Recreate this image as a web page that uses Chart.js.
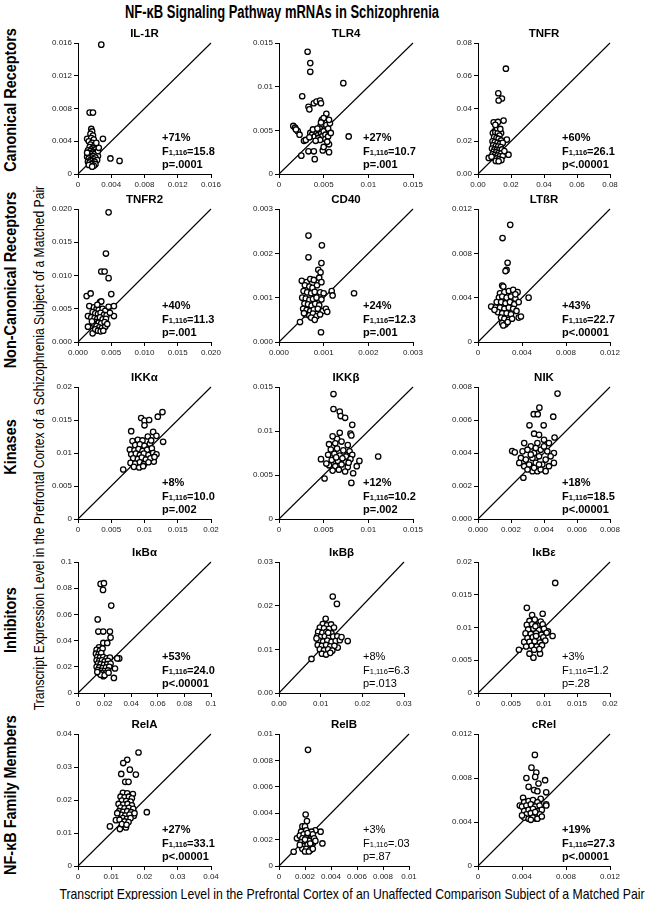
<!DOCTYPE html>
<html>
<head>
<meta charset="utf-8">
<script src="https://cdn.jsdelivr.net/npm/chart.js@4.4.1/dist/chart.umd.min.js"></script>
<style>
  body { margin: 0; background: #fff; }
  #fig { position: relative; width: 647px; height: 900px; overflow: hidden;
         font-family: "Liberation Sans", Arial, sans-serif; color: #000; }
  #fig canvas { position: absolute; }
  .lbl { position: absolute; white-space: nowrap; }
</style>
</head>
<body>
<div id="fig">
  <div class="lbl" style="left:282px; top:12px; font-weight:bold; font-size:18px; transform:translate(-50%,-50%) scaleX(0.72);">NF-κB Signaling Pathway mRNAs in Schizophrenia</div>
  <div class="lbl" style="left:11px; top:100px; font-weight:bold; font-size:17px; transform:translate(-50%,-50%) rotate(-90deg) scaleX(0.85);">Canonical Receptors</div>
  <div class="lbl" style="left:11px; top:280px; font-weight:bold; font-size:17px; transform:translate(-50%,-50%) rotate(-90deg) scaleX(0.85);">Non-Canonical Receptors</div>
  <div class="lbl" style="left:11px; top:447px; font-weight:bold; font-size:17px; transform:translate(-50%,-50%) rotate(-90deg) scaleX(0.85);">Kinases</div>
  <div class="lbl" style="left:11px; top:620px; font-weight:bold; font-size:17px; transform:translate(-50%,-50%) rotate(-90deg) scaleX(0.85);">Inhibitors</div>
  <div class="lbl" style="left:11px; top:795px; font-weight:bold; font-size:17px; transform:translate(-50%,-50%) rotate(-90deg) scaleX(0.85);">NF-κB Family Members</div>
  <div class="lbl" style="left:38px; top:448px; font-size:15px; transform:translate(-50%,-50%) rotate(-90deg) scaleX(0.81);">Transcript Expression Level in the Prefrontal Cortex of a Schizophrenia Subject of a Matched Pair</div>
  <div class="lbl" style="left:352px; top:893px; font-size:15px; transform:translate(-50%,-50%) scaleX(0.815);">Transcript Expression Level in the Prefrontal Cortex of an Unaffected Comparison Subject of a Matched Pair</div>
</div>
<script>
// [control, schizophrenia] pairs for each transcript
const il1rPairs = [[0.0028,0.0158],[0.0014,0.0075],[0.0018,0.0075],[0.0030,0.0043],[0.0039,0.0019],[0.0050,0.0016],
  [0.0016,0.0055],[0.0017,0.0052],[0.0015,0.0049],[0.0018,0.0047],[0.0011,0.0043],[0.0016,0.0044],[0.0019,0.0042],[0.0013,0.0040],
  [0.0017,0.0038],[0.0015,0.0036],[0.0020,0.0035],[0.0014,0.0033],[0.0018,0.0032],[0.0016,0.0030],[0.0021,0.0030],[0.0012,0.0029],
  [0.0015,0.0028],[0.0019,0.0027],[0.0017,0.0026],[0.0022,0.0026],[0.0013,0.0025],[0.0016,0.0024],[0.0020,0.0024],[0.0014,0.0022],
  [0.0018,0.0022],[0.0024,0.0022],[0.0011,0.0021],[0.0016,0.0020],[0.0021,0.0020],[0.0013,0.0019],[0.0019,0.0018],[0.0015,0.0017],
  [0.0023,0.0017],[0.0017,0.0016],[0.0012,0.0015],[0.0020,0.0015],[0.0014,0.0014],[0.0018,0.0013],[0.0016,0.0012],[0.0021,0.0012],
  [0.0013,0.0011],[0.0019,0.0010],[0.0017,0.0009],[0.0024,0.0028],[0.0025,0.0032],[0.0011,0.0026],[0.0022,0.0038]];
const tlr4Pairs = [[0.0032,0.0140],[0.0035,0.0127],[0.0035,0.0117],[0.0072,0.0104],[0.0026,0.0089],[0.0033,0.0077],[0.0034,0.0074],
  [0.0039,0.0081],[0.0042,0.0083],[0.0046,0.0084],[0.0047,0.0081],[0.0078,0.0043],[0.0016,0.0055],[0.0018,0.0053],[0.0021,0.0049],
  [0.0023,0.0045],[0.0025,0.0021],[0.0033,0.0026],[0.0039,0.0026],[0.0040,0.0017],[0.0049,0.0027],[0.0050,0.0031],[0.0056,0.0025],
  [0.0056,0.0034],[0.0053,0.0069],[0.0019,0.0051],[0.0028,0.0038],[0.0030,0.0039],[0.0035,0.0047],[0.0037,0.0045],[0.0040,0.0043],
  [0.0042,0.0048],[0.0044,0.0045],[0.0045,0.0050],[0.0047,0.0046],[0.0048,0.0043],[0.0050,0.0049],[0.0052,0.0045],[0.0046,0.0054],
  [0.0049,0.0057],[0.0051,0.0060],[0.0053,0.0056],[0.0055,0.0052],[0.0057,0.0058],[0.0048,0.0062],[0.0050,0.0064],[0.0044,0.0041],
  [0.0046,0.0039],[0.0052,0.0040],[0.0055,0.0043],[0.0058,0.0047],[0.0034,0.0042],[0.0038,0.0051],[0.0041,0.0038],[0.0054,0.0037],
  [0.0043,0.0052],[0.0047,0.0059],[0.0056,0.0062]];
const tnfrPairs = [[0.0169,0.0643],[0.0123,0.0493],[0.0145,0.0461],[0.0125,0.0449],[0.0095,0.0316],[0.0121,0.0318],[0.0155,0.0326],
  [0.0185,0.0118],[0.0175,0.0210],[0.0065,0.0098],[0.0140,0.0250],[0.0100,0.0260],[0.0090,0.0250],[0.0105,0.0255],[0.0120,0.0252],
  [0.0130,0.0235],[0.0098,0.0225],[0.0112,0.0220],[0.0125,0.0215],[0.0140,0.0205],[0.0088,0.0200],[0.0102,0.0195],[0.0118,0.0190],
  [0.0133,0.0185],[0.0150,0.0190],[0.0092,0.0175],[0.0108,0.0170],[0.0122,0.0168],[0.0138,0.0165],[0.0085,0.0155],[0.0100,0.0150],
  [0.0115,0.0148],[0.0128,0.0145],[0.0145,0.0150],[0.0095,0.0135],[0.0110,0.0132],[0.0125,0.0128],[0.0140,0.0125],[0.0088,0.0120],
  [0.0103,0.0115],[0.0118,0.0112],[0.0132,0.0108],[0.0150,0.0110],[0.0098,0.0100],[0.0112,0.0095],[0.0128,0.0090],[0.0142,0.0085],
  [0.0108,0.0080],[0.0125,0.0078],[0.0082,0.0105],[0.0160,0.0140],[0.0115,0.0280],[0.0135,0.0275],[0.0105,0.0300]];
const tnfr2Pairs = [[0.0046,0.0195],[0.0042,0.0133],[0.0035,0.0106],[0.0040,0.0106],[0.0046,0.0096],[0.0013,0.0069],[0.0019,0.0073],
  [0.0050,0.0072],[0.0017,0.0054],[0.0015,0.0039],[0.0054,0.0054],[0.0054,0.0039],[0.0033,0.0060],[0.0035,0.0061],[0.0015,0.0023],
  [0.0022,0.0013],[0.0024,0.0052],[0.0028,0.0050],[0.0031,0.0048],[0.0037,0.0050],[0.0041,0.0047],[0.0046,0.0053],[0.0022,0.0045],
  [0.0026,0.0043],[0.0030,0.0042],[0.0034,0.0044],[0.0039,0.0041],[0.0043,0.0040],[0.0048,0.0044],[0.0020,0.0037],[0.0025,0.0036],
  [0.0029,0.0035],[0.0033,0.0037],[0.0037,0.0034],[0.0042,0.0035],[0.0027,0.0030],[0.0031,0.0029],[0.0035,0.0028],[0.0040,0.0030],
  [0.0023,0.0028],[0.0028,0.0024],[0.0032,0.0022],[0.0036,0.0021],[0.0041,0.0023],[0.0026,0.0019],[0.0030,0.0017],[0.0034,0.0016],
  [0.0038,0.0017],[0.0044,0.0027],[0.0021,0.0031],[0.0029,0.0056]];
const cd40Pairs = [[0.00066,0.00240],[0.00096,0.00218],[0.00066,0.00191],[0.00095,0.00178],[0.00088,0.00163],[0.00093,0.00157],
  [0.00051,0.00138],[0.00094,0.00022],[0.00168,0.00110],[0.00118,0.00115],[0.00120,0.00105],[0.00047,0.00045],[0.00062,0.00135],
  [0.00070,0.00142],[0.00078,0.00140],[0.00090,0.00145],[0.00058,0.00128],[0.00068,0.00125],[0.00075,0.00122],[0.00085,0.00128],
  [0.00095,0.00135],[0.00055,0.00115],[0.00063,0.00112],[0.00072,0.00110],[0.00080,0.00113],[0.00092,0.00112],[0.00100,0.00110],
  [0.00052,0.00100],[0.00060,0.00098],[0.00068,0.00095],[0.00076,0.00097],[0.00084,0.00100],[0.00095,0.00096],[0.00057,0.00087],
  [0.00065,0.00085],[0.00073,0.00082],[0.00081,0.00086],[0.00090,0.00083],[0.00054,0.00075],[0.00062,0.00072],[0.00070,0.00070],
  [0.00078,0.00073],[0.00087,0.00075],[0.00098,0.00070],[0.00105,0.00075],[0.00060,0.00062],[0.00068,0.00060],[0.00076,0.00064],
  [0.00084,0.00058],[0.00092,0.00062],[0.00072,0.00055],[0.00080,0.00050],[0.00108,0.00068],[0.00056,0.00065]];
const ltbrPairs = [[0.00293,0.01057],[0.00223,0.00938],[0.00269,0.00715],[0.0026,0.0065],[0.0025,0.0064],[0.0046,0.0040],[0.0012,0.0032],
  [0.0037,0.0022],[0.0039,0.0023],[0.0022,0.0051],[0.0023,0.0050],[0.0020,0.0044],[0.0024,0.0045],[0.0028,0.0046],[0.0032,0.0047],
  [0.0036,0.0045],[0.0019,0.0040],[0.0022,0.0041],[0.0026,0.0040],[0.0030,0.0041],[0.0034,0.0039],[0.0017,0.0036],[0.0021,0.0036],
  [0.0025,0.0035],[0.0029,0.0036],[0.0033,0.0034],[0.0037,0.0036],[0.0016,0.0031],[0.0020,0.0031],[0.0024,0.0030],[0.0028,0.0031],
  [0.0032,0.0030],[0.0035,0.0028],[0.0018,0.0027],[0.0022,0.0026],[0.0026,0.0026],[0.0030,0.0025],[0.0021,0.0022],[0.0024,0.0021],
  [0.0028,0.0020],[0.0022,0.0017],[0.0025,0.0016],[0.0023,0.0015],[0.0027,0.0018],[0.0031,0.0021],[0.0015,0.0029],[0.0034,0.0043]];
const ikkaPairs = [[0.0068,0.0075],[0.0127,0.0162],[0.0120,0.0155],[0.0095,0.0153],[0.0100,0.0149],[0.0107,0.0150],[0.0100,0.0142],
  [0.0080,0.0133],[0.0128,0.0117],[0.0113,0.0132],[0.0118,0.0126],[0.0105,0.0125],[0.0114,0.0087],[0.0082,0.0118],[0.0090,0.0120],
  [0.0097,0.0119],[0.0086,0.0112],[0.0093,0.0113],[0.0100,0.0111],[0.0108,0.0114],[0.0078,0.0105],[0.0085,0.0104],[0.0091,0.0106],
  [0.0097,0.0103],[0.0104,0.0105],[0.0111,0.0107],[0.0080,0.0098],[0.0087,0.0099],[0.0093,0.0097],[0.0099,0.0099],[0.0106,0.0097],
  [0.0113,0.0100],[0.0118,0.0098],[0.0083,0.0092],[0.0090,0.0091],[0.0096,0.0093],[0.0102,0.0090],[0.0109,0.0092],[0.0115,0.0094],
  [0.0079,0.0085],[0.0086,0.0084],[0.0093,0.0086],[0.0099,0.0083],[0.0106,0.0086],[0.0084,0.0079],[0.0092,0.0078],[0.0098,0.0080],
  [0.0110,0.0119]];
const ikkbPairs = [[0.0061,0.0142],[0.0061,0.0125],[0.0068,0.0122],[0.0069,0.0117],[0.0074,0.0115],[0.0082,0.0107],[0.0080,0.0097],
  [0.0081,0.0095],[0.0068,0.0098],[0.0111,0.0071],[0.0081,0.0041],[0.0090,0.0066],[0.0087,0.0060],[0.0083,0.0052],[0.0047,0.0068],
  [0.0051,0.0046],[0.0060,0.0082],[0.0065,0.0091],[0.0060,0.0094],[0.0056,0.0085],[0.0063,0.0086],[0.0070,0.0088],[0.0077,0.0084],
  [0.0058,0.0079],[0.0065,0.0080],[0.0072,0.0078],[0.0079,0.0077],[0.0055,0.0073],[0.0062,0.0074],[0.0068,0.0072],[0.0075,0.0071],
  [0.0082,0.0073],[0.0059,0.0067],[0.0066,0.0066],[0.0073,0.0065],[0.0080,0.0068],[0.0056,0.0061],[0.0063,0.0060],[0.0070,0.0062],
  [0.0077,0.0059],[0.0060,0.0055],[0.0067,0.0056],[0.0074,0.0054],[0.0071,0.0069],[0.0064,0.0070],[0.0053,0.0063],[0.0078,0.0064]];
const nikPairs = [[0.00482,0.0076],[0.00372,0.00675],[0.00338,0.00635],[0.00362,0.00635],[0.00312,0.00568],[0.00398,0.00568],
  [0.00456,0.0062],[0.00464,0.00494],[0.0034,0.00517],[0.0037,0.0051],[0.00207,0.00412],[0.00223,0.00404],[0.00275,0.0025],
  [0.0046,0.0040],[0.0033,0.0029],[0.0036,0.0029],[0.0028,0.0046],[0.0032,0.0044],[0.0036,0.0046],[0.0040,0.0048],[0.0043,0.0046],
  [0.0027,0.0041],[0.0030,0.0042],[0.0034,0.0040],[0.0038,0.0042],[0.0042,0.0041],[0.0026,0.0037],[0.0029,0.0036],[0.0033,0.0037],
  [0.0037,0.0038],[0.0041,0.0036],[0.0044,0.0038],[0.0028,0.0032],[0.0031,0.0033],[0.0035,0.0034],[0.0039,0.0033],[0.0043,0.0032],
  [0.0030,0.0030],[0.0034,0.0031],[0.0038,0.0030],[0.0041,0.0029],[0.0025,0.0034],[0.0046,0.0034],[0.0032,0.0039],[0.0040,0.0044],
  [0.0035,0.0043],[0.0037,0.0033]];
const ikbaPairs = [[0.017,0.0833],[0.0195,0.0838],[0.0188,0.0787],[0.025,0.0667],[0.0148,0.0562],[0.0153,0.0469],[0.019,0.0469],
  [0.024,0.0469],[0.0245,0.0423],[0.019,0.0382],[0.022,0.0382],[0.0158,0.0349],[0.0278,0.0187],[0.027,0.0115],[0.031,0.0264],
  [0.0295,0.0264],[0.019,0.0128],[0.0140,0.0330],[0.0165,0.0325],[0.0185,0.0340],[0.0135,0.0300],[0.0155,0.0295],[0.0175,0.0305],
  [0.0145,0.0275],[0.0165,0.0270],[0.0190,0.0275],[0.0215,0.0265],[0.0240,0.0270],[0.0140,0.0250],[0.0160,0.0245],[0.0180,0.0250],
  [0.0200,0.0240],[0.0225,0.0245],[0.0150,0.0225],[0.0170,0.0220],[0.0195,0.0215],[0.0220,0.0220],[0.0245,0.0225],[0.0140,0.0200],
  [0.0160,0.0195],[0.0185,0.0190],[0.0210,0.0195],[0.0235,0.0200],[0.0150,0.0175],[0.0175,0.0170],[0.0200,0.0168],[0.0225,0.0172],
  [0.0160,0.0155],[0.0185,0.0150],[0.0210,0.0150],[0.0170,0.0140],[0.0200,0.0135],[0.0145,0.0160],[0.0230,0.0155]];
const ikbbPairs = [[0.0129,0.0221],[0.0139,0.0204],[0.0112,0.0170],[0.0078,0.0078],[0.0165,0.0119],[0.0141,0.0104],[0.0105,0.0158],
  [0.0115,0.0155],[0.0125,0.0157],[0.0098,0.0150],[0.0108,0.0148],[0.0120,0.0147],[0.0132,0.0150],[0.0094,0.0140],[0.0104,0.0138],
  [0.0114,0.0140],[0.0126,0.0137],[0.0092,0.0130],[0.0100,0.0128],[0.0110,0.0130],[0.0120,0.0127],[0.0130,0.0129],[0.0140,0.0130],
  [0.0096,0.0120],[0.0106,0.0118],[0.0116,0.0120],[0.0126,0.0117],[0.0136,0.0119],[0.0146,0.0121],[0.0093,0.0110],[0.0103,0.0108],
  [0.0113,0.0110],[0.0123,0.0107],[0.0133,0.0108],[0.0098,0.0100],[0.0108,0.0098],[0.0118,0.0100],[0.0128,0.0097],[0.0103,0.0090],
  [0.0113,0.0088],[0.0123,0.0092],[0.0090,0.0125],[0.0150,0.0128],[0.0118,0.0138]];
const ikbePairs = [[0.0117,0.0168],[0.0074,0.0130],[0.0098,0.0121],[0.0082,0.0119],[0.0062,0.0066],[0.0113,0.0087],[0.0106,0.0094],
  [0.0084,0.0054],[0.0094,0.0060],[0.0070,0.0078],[0.0078,0.0060],[0.0078,0.0110],[0.0086,0.0112],[0.0095,0.0109],[0.0074,0.0104],
  [0.0082,0.0105],[0.0090,0.0103],[0.0098,0.0105],[0.0076,0.0097],[0.0084,0.0098],[0.0092,0.0096],[0.0100,0.0098],[0.0072,0.0091],
  [0.0080,0.0090],[0.0088,0.0091],[0.0096,0.0089],[0.0104,0.0092],[0.0075,0.0084],[0.0083,0.0085],[0.0091,0.0083],[0.0099,0.0085],
  [0.0078,0.0078],[0.0086,0.0079],[0.0094,0.0077],[0.0102,0.0080],[0.0081,0.0072],[0.0089,0.0071],[0.0097,0.0073],[0.0085,0.0066],
  [0.0093,0.0067],[0.0073,0.0071],[0.0088,0.0087],[0.0087,0.0102]];
const relaPairs = [[0.0182,0.0344],[0.0148,0.0322],[0.0136,0.0312],[0.0156,0.0292],[0.0174,0.0277],[0.0130,0.0279],[0.0142,0.0255],
  [0.0152,0.0255],[0.0207,0.0163],[0.0096,0.0120],[0.0144,0.0117],[0.0126,0.0112],[0.0114,0.0139],[0.0168,0.0152],[0.0135,0.0222],
  [0.0148,0.0220],[0.0165,0.0218],[0.0128,0.0210],[0.0140,0.0208],[0.0153,0.0210],[0.0162,0.0205],[0.0132,0.0198],[0.0145,0.0197],
  [0.0158,0.0195],[0.0122,0.0188],[0.0136,0.0186],[0.0149,0.0188],[0.0162,0.0184],[0.0128,0.0177],[0.0140,0.0175],[0.0153,0.0176],
  [0.0166,0.0173],[0.0124,0.0166],[0.0136,0.0164],[0.0148,0.0166],[0.0160,0.0163],[0.0130,0.0155],[0.0142,0.0153],[0.0155,0.0156],
  [0.0135,0.0145],[0.0147,0.0143],[0.0158,0.0145],[0.0125,0.0140],[0.0140,0.0135],[0.0152,0.0133],[0.0132,0.0127],[0.0146,0.0125],
  [0.0170,0.0160],[0.0118,0.0160]];
const relbPairs = [[0.00223,0.0088],[0.00205,0.0039],[0.00215,0.0034],[0.00113,0.00108],[0.00334,0.00171],[0.0032,0.0026],[0.0028,0.0027],
  [0.0018,0.0030],[0.0020,0.0030],[0.00138,0.0021],[0.0017,0.0026],[0.0021,0.0027],[0.0025,0.0026],[0.0016,0.0023],[0.0019,0.0024],
  [0.0022,0.0023],[0.0026,0.0024],[0.0018,0.0021],[0.0021,0.0021],[0.0024,0.0020],[0.0027,0.0021],[0.0017,0.0018],[0.0020,0.0018],
  [0.0023,0.0019],[0.0026,0.0017],[0.0019,0.0015],[0.0022,0.0016],[0.0025,0.0015],[0.0018,0.0013],[0.0021,0.0013],[0.0024,0.0012],
  [0.0020,0.0011],[0.0023,0.0011],[0.0016,0.0016],[0.0028,0.0019],[0.0026,0.0013],[0.0022,0.0025],[0.0020,0.0020],[0.0024,0.0017]];
const crelPairs = [[0.00517,0.0101],[0.00486,0.00894],[0.0053,0.0085],[0.0052,0.0081],[0.0044,0.0080],[0.0061,0.0078],[0.0055,0.0075],
  [0.0046,0.0072],[0.0051,0.0069],[0.0054,0.0068],[0.0041,0.0062],[0.0062,0.0067],[0.0057,0.0061],[0.0062,0.0056],[0.0062,0.0055],
  [0.0038,0.0055],[0.0053,0.0043],[0.0042,0.0058],[0.0046,0.0059],[0.0050,0.0060],[0.0054,0.0058],[0.0040,0.0054],[0.0044,0.0055],
  [0.0048,0.0056],[0.0052,0.0054],[0.0056,0.0055],[0.0042,0.0050],[0.0046,0.0051],[0.0050,0.0052],[0.0054,0.0050],[0.0058,0.0051],
  [0.0044,0.0047],[0.0048,0.0048],[0.0052,0.0046],[0.0056,0.0047],[0.0042,0.0044],[0.0046,0.0043],[0.0050,0.0044],[0.0054,0.0043],
  [0.0048,0.0042],[0.0052,0.0049],[0.0040,0.0046],[0.0058,0.0045]];

// tick labels (same on both axes of a panel)
const il1rTicks = ['0', '0.004', '0.008', '0.012', '0.016'];
const tlr4Ticks = ['0', '0.005', '0.01', '0.015'];
const tnfrTicks = ['0.00', '0.02', '0.04', '0.06', '0.08'];
const tnfr2Ticks = ['0.000', '0.005', '0.010', '0.015', '0.020'];
const cd40Ticks = ['0.000', '0.001', '0.002', '0.003'];
const ltbrTicks = ['0', '0.004', '0.008', '0.012'];
const ikkaTicks = ['0', '0.005', '0.01', '0.015', '0.02'];
const ikkbTicks = ['0', '0.005', '0.01', '0.015'];
const nikTicks = ['0.000', '0.002', '0.004', '0.006', '0.008'];
const ikbaTicks = ['0', '0.02', '0.04', '0.06', '0.08', '0.1'];
const ikbbTicks = ['0.00', '0.01', '0.02', '0.03'];
const ikbeTicks = ['0', '0.005', '0.01', '0.015', '0.02'];
const relaTicks = ['0', '0.01', '0.02', '0.03', '0.04'];
const relbTicks = ['0', '0.002', '0.004', '0.006', '0.008', '0.01'];
const crelTicks = ['0', '0.004', '0.008', '0.012'];

const panelNames = ['IL-1R', 'TLR4', 'TNFR', 'TNFR2', 'CD40', 'LTßR', 'IKKα', 'IKKβ', 'NIK',
  'IκBα', 'IκBβ', 'IκBε', 'RelA', 'RelB', 'cRel'];
const pctChange = ['+71%', '+27%', '+60%', '+40%', '+24%', '+43%', '+8%', '+12%', '+18%',
  '+53%', '+8%', '+3%', '+27%', '+3%', '+19%'];
const fStats = ['15.8', '10.7', '26.1', '11.3', '12.3', '22.7', '10.0', '10.2', '18.5',
  '24.0', '6.3', '1.2', '33.1', '.03', '27.3'];
const pStats = ['p=.0001', 'p=.001', 'p<.00001', 'p=.001', 'p=.001', 'p<.00001', 'p=.002', 'p=.002', 'p<.00001',
  'p<.00001', 'p=.013', 'p=.28', 'p<.00001', 'p=.87', 'p<.00001'];

const pairSets = [il1rPairs, tlr4Pairs, tnfrPairs, tnfr2Pairs, cd40Pairs, ltbrPairs, ikkaPairs, ikkbPairs, nikPairs,
  ikbaPairs, ikbbPairs, ikbePairs, relaPairs, relbPairs, crelPairs];
const tickSets = [il1rTicks, tlr4Ticks, tnfrTicks, tnfr2Ticks, cd40Ticks, ltbrTicks, ikkaTicks, ikkbTicks, nikTicks,
  ikbaTicks, ikbbTicks, ikbeTicks, relaTicks, relbTicks, crelTicks];

// page layout of the plot boxes
const FONT = '"Liberation Sans", Arial, sans-serif';
const colLeft = [78, 279, 478];
const colRight = [211, 413, 610];
const rowTop = [43, 209, 387, 562, 734];
const rowBottom = [174, 342, 519, 693, 866];
const rightOverride = { 10: 404, 13: 409 };
const plainStats = [10, 11, 13];
const padL = 45, padT = 28, padR = 14, padB = 22;

const panelText = {
  id: 'panelText',
  afterDraw(chart, args, opts) {
    const { ctx, chartArea: a } = chart;
    ctx.save();
    ctx.fillStyle = '#000';
    ctx.textBaseline = 'middle';
    ctx.textAlign = 'center';
    ctx.font = 'bold 11.5px ' + FONT;
    ctx.fillText(opts.name, (a.left + a.right) / 2, a.top - 9);

    const w = opts.bold ? 'bold ' : '';
    const x = a.left + 84;
    ctx.textAlign = 'left';
    ctx.font = w + '11px ' + FONT;
    ctx.fillText(opts.pct, x, a.bottom - 36);
    ctx.fillText('F', x, a.bottom - 22.5);
    let dx = ctx.measureText('F').width;
    ctx.font = w + '7.5px ' + FONT;
    ctx.fillText('1,116', x + dx, a.bottom - 21.5);
    dx += ctx.measureText('1,116').width;
    ctx.font = w + '11px ' + FONT;
    ctx.fillText('=' + opts.f, x + dx, a.bottom - 22.5);
    ctx.fillText(opts.p, x, a.bottom - 9.5);
    ctx.restore();
  }
};

const fig = document.getElementById('fig');

pairSets.forEach((pairs, i) => {
  const row = Math.floor(i / 3), col = i % 3;
  const left = colLeft[col], right = rightOverride[i] || colRight[col];
  const top = rowTop[row], bottom = rowBottom[row];

  const canvas = document.createElement('canvas');
  canvas.width = padL + (right - left) + padR;
  canvas.height = padT + (bottom - top) + padB;
  canvas.style.left = (left - padL) + 'px';
  canvas.style.top = (top - padT) + 'px';
  fig.appendChild(canvas);

  const labels = tickSets[i];
  const vals = labels.map(parseFloat);
  const max = vals[vals.length - 1];

  const axis = (extra) => Object.assign({
    type: 'linear',
    min: 0,
    max: max,
    afterBuildTicks: s => { s.ticks = vals.map(v => ({ value: v })); },
    ticks: {
      callback: (v, k) => labels[k],
      font: { family: FONT, size: 8 },
      color: '#222',
      autoSkip: false,
      maxRotation: 0,
      padding: 2
    },
    grid: { drawOnChartArea: false, drawTicks: true, tickLength: 4, color: '#000', lineWidth: 1 },
    border: { display: true, color: '#000', width: 1 }
  }, extra);

  new Chart(canvas, {
    type: 'scatter',
    data: {
      datasets: [
        {
          data: pairs.map(p => ({ x: p[0], y: p[1] })),
          pointRadius: 2.7,
          pointHoverRadius: 2.7,
          pointBorderWidth: 1.3,
          borderColor: '#000',
          backgroundColor: '#fff',
          clip: false
        },
        {
          type: 'line',
          data: [{ x: 0, y: 0 }, { x: max, y: max }],
          borderColor: '#000',
          borderWidth: 1.1,
          pointRadius: 0,
          fill: false,
          clip: false
        }
      ]
    },
    options: {
      responsive: false,
      animation: false,
      devicePixelRatio: 1,
      events: [],
      layout: { padding: { top: padT, right: padR, left: 0, bottom: 0 } },
      scales: {
        x: axis({ afterFit: s => { s.height = padB; } }),
        y: axis({ afterFit: s => { s.width = padL; } })
      },
      plugins: {
        legend: { display: false },
        tooltip: { enabled: false },
        panelText: {
          name: panelNames[i],
          pct: pctChange[i],
          f: fStats[i],
          p: pStats[i],
          bold: !plainStats.includes(i)
        }
      }
    },
    plugins: [panelText]
  });
});
</script>
</body>
</html>
